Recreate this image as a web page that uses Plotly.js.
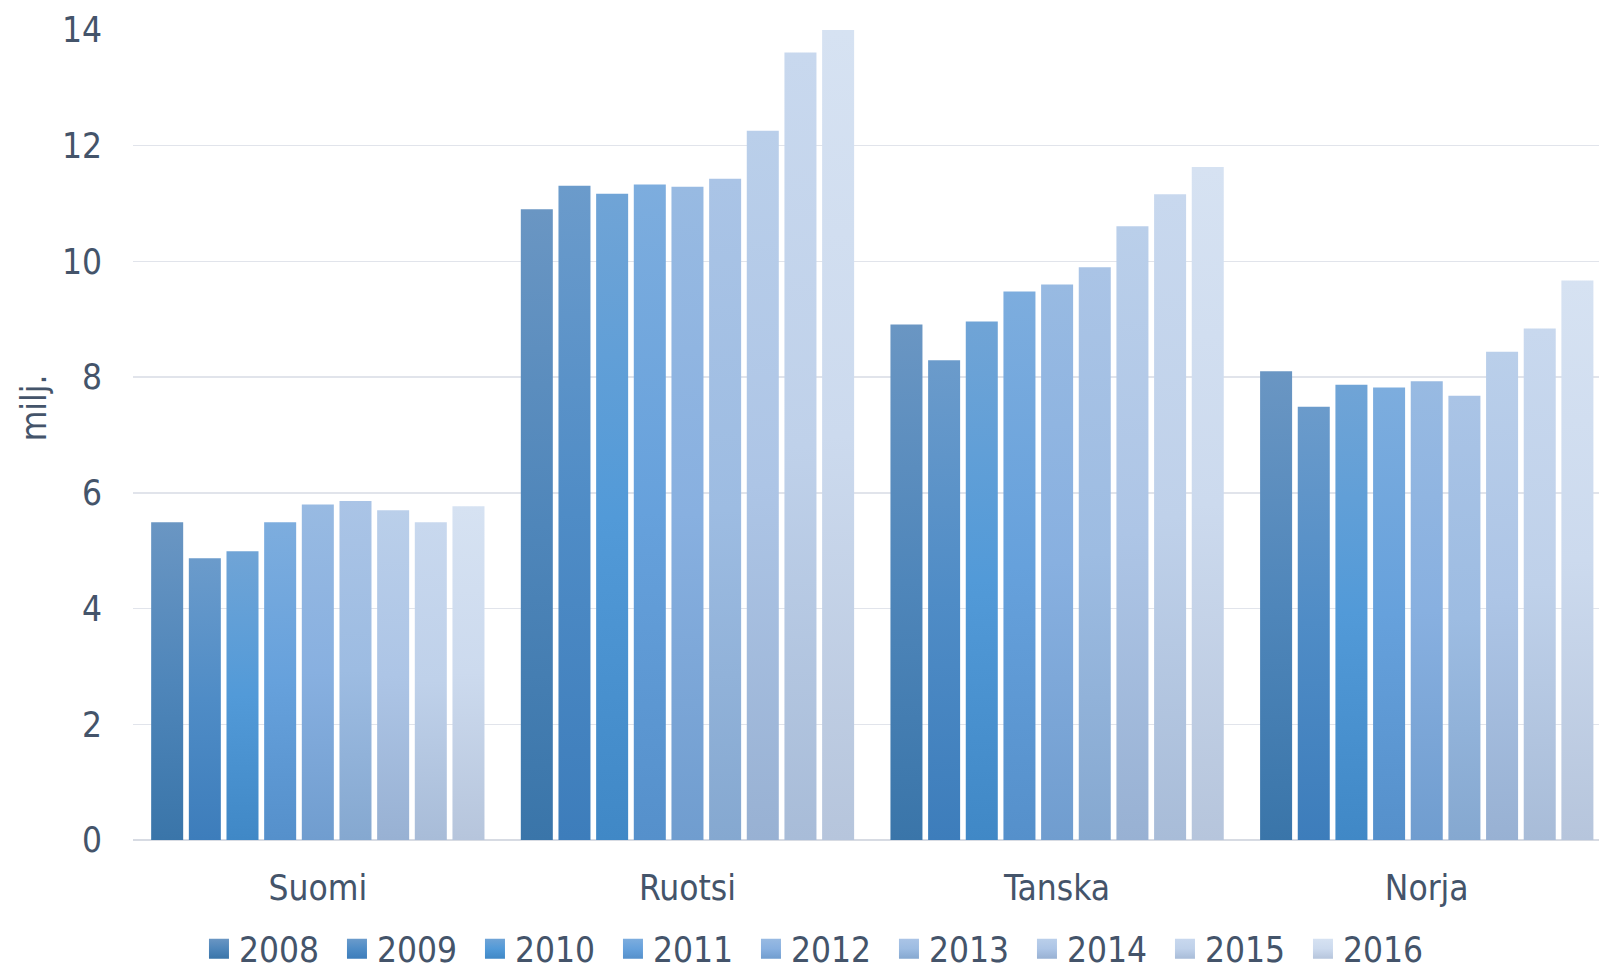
<!DOCTYPE html>
<html>
<head>
<meta charset="utf-8">
<script src="https://cdn.plot.ly/plotly-3.0.1.min.js"></script>
<style>
html,body{margin:0;padding:0;background:#fff;}
#chart{width:1599px;height:972px;}
</style>
</head>
<body>
<div id="chart"></div>
<script>
var countries = ["Suomi", "Ruotsi", "Tanska", "Norja"];
var years = ["2008", "2009", "2010", "2011", "2012", "2013", "2014", "2015", "2016"];
// values per year, in order Suomi, Ruotsi, Tanska, Norja (milj.)
var v2008 = [5.49, 10.90, 8.91, 8.10];
var v2009 = [4.87, 11.31, 8.29, 7.49];
var v2010 = [4.99, 11.17, 8.96, 7.87];
var v2011 = [5.49, 11.33, 9.48, 7.82];
var v2012 = [5.80, 11.29, 9.60, 7.93];
var v2013 = [5.86, 11.43, 9.90, 7.68];
var v2014 = [5.70, 12.26, 10.61, 8.44];
var v2015 = [5.49, 13.61, 11.16, 8.84];
var v2016 = [5.77, 14.00, 11.63, 9.67];
var seriesValues = [v2008, v2009, v2010, v2011, v2012, v2013, v2014, v2015, v2016];
var yTicks = [0, 2, 4, 6, 8, 10, 12, 14];

// gradient stops per year: top, middle, bottom
var gradTop = ["#6a96c3", "#6b9bcb", "#70a4d6", "#7dadde", "#98bae2", "#aac4e6", "#bacfea", "#c8d8ee", "#d6e2f2"];
var gradMid = ["#4f86ba", "#4f8cc6", "#529ad8", "#66a1dc", "#88b0e0", "#9dbce2", "#adc5e6", "#bfd1ea", "#ccdaee"];
var gradBot = ["#3a75a9", "#3d7dbb", "#4088c6", "#5590cb", "#709dcf", "#85a8d0", "#98b1d3", "#a8bcd8", "#b6c5dc"];

var FONT = '"DejaVu Sans Condensed", "Liberation Sans Narrow", "Liberation Sans", sans-serif';
var FS = 35;
var TXT = "#44546a";

var traces = [];
years.forEach(function (yr, i) {
  traces.push({
    type: "bar",
    name: yr,
    x: countries,
    y: seriesValues[i],
    marker: { color: gradMid[i], line: { width: 0 } },
    showlegend: false,
    hoverinfo: "x+y+name"
  });
});
// legend entries (square swatches)
years.forEach(function (yr, i) {
  traces.push({
    type: "scatter",
    mode: "markers",
    name: yr,
    x: [null],
    y: [null],
    marker: { symbol: "square", size: 16, color: gradMid[i], line: { width: 0 } },
    showlegend: true
  });
});

var layout = {
  width: 1599,
  height: 972,
  margin: { l: 133, r: 0, t: 30, b: 132, pad: 0, autoexpand: false },
  paper_bgcolor: "#ffffff",
  plot_bgcolor: "#ffffff",
  font: { family: FONT, size: FS, color: TXT },
  barmode: "group",
  bargap: 0.083,
  bargroupgap: 0.15,
  showlegend: true,
  xaxis: {
    type: "category",
    range: [-0.5, 3.466],
    showgrid: false,
    showline: false,
    zeroline: false,
    ticks: "",
    ticklabelstandoff: 24,
    tickfont: { family: FONT, size: FS, color: TXT }
  },
  yaxis: {
    range: [0, 14],
    tickvals: yTicks,
    ticktext: yTicks.map(String),
    showgrid: true,
    gridcolor: "#e1e4eb",
    gridwidth: 1.5,
    zeroline: true,
    zerolinecolor: "#d7dbe3",
    zerolinewidth: 2.5,
    showline: false,
    ticks: "",
    ticklabelstandoff: 30,
    tickfont: { family: FONT, size: FS, color: TXT }
  },
  legend: {
    orientation: "h",
    x: 0.045,
    xanchor: "left",
    y: -0.1345,
    yanchor: "middle",
    font: { family: FONT, size: FS, color: TXT },
    itemwidth: 30,
    entrywidth: 93,
    tracegroupgap: 0,
    bgcolor: "rgba(0,0,0,0)"
  },
  annotations: [{
    text: "milj.",
    xref: "paper",
    yref: "paper",
    x: -0.0675,
    y: 0.533,
    xanchor: "center",
    yanchor: "middle",
    textangle: -90,
    showarrow: false,
    font: { family: FONT, size: FS, color: TXT }
  }]
};

Plotly.newPlot("chart", traces, layout, { staticPlot: true, displayModeBar: false }).then(function (gd) {
  var svg = gd.querySelector("svg.main-svg");
  var ns = "http://www.w3.org/2000/svg";
  var defs = svg.querySelector("defs") || svg.insertBefore(document.createElementNS(ns, "defs"), svg.firstChild);
  years.forEach(function (yr, i) {
    var lg = document.createElementNS(ns, "linearGradient");
    lg.setAttribute("id", "barGrad" + i);
    lg.setAttribute("x1", "0"); lg.setAttribute("y1", "0");
    lg.setAttribute("x2", "0"); lg.setAttribute("y2", "1");
    [[0, gradTop[i]], [0.5, gradMid[i]], [1, gradBot[i]]].forEach(function (s) {
      var st = document.createElementNS(ns, "stop");
      st.setAttribute("offset", s[0]);
      st.setAttribute("stop-color", s[1]);
      lg.appendChild(st);
    });
    defs.appendChild(lg);
  });
  var barTraces = gd.querySelectorAll(".barlayer .trace.bars");
  barTraces.forEach(function (g, i) {
    g.querySelectorAll("path").forEach(function (p) {
      p.style.fill = "url(#barGrad" + i + ")";
    });
  });
  var legendPts = gd.querySelectorAll(".legend .traces");
  legendPts.forEach(function (g, i) {
    g.querySelectorAll("path.scatterpts").forEach(function (p) {
      p.setAttribute("d", "M10,10H-10V-10H10Z");
      p.style.fill = "url(#barGrad" + i + ")";
    });
  });
});
</script>
</body>
</html>
